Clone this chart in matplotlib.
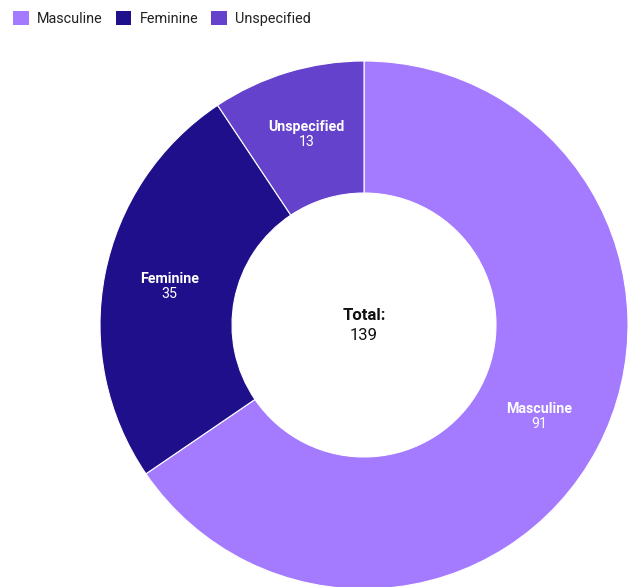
import matplotlib
matplotlib.use("Agg")
import matplotlib.pyplot as plt
from matplotlib.patches import Patch
import numpy as np

plt.rcParams['font.family'] = ['Roboto', 'DejaVu Sans']

categories = ["Masculine", "Feminine", "Unspecified"]
values = [91, 35, 13]
colors = ["#A47AFF", "#1F0F8A", "#6442CB"]

W, H = 628, 587
fig = plt.figure(figsize=(W / 100, H / 100), dpi=100)
ax = fig.add_axes([0, 0, 1, 1])

cx, cy, R = 364, H - 325, 264
wedges, _ = ax.pie(values, colors=colors, startangle=90, counterclock=False,
                   center=(cx, cy), radius=R, frame=True,
                   wedgeprops=dict(width=R * 0.5, edgecolor="white", linewidth=0.8))
ax.set_xlim(0, W)
ax.set_ylim(0, H)
ax.set_aspect("equal")
ax.axis("off")

total = sum(values)
start = 90.0
for cat, v in zip(categories, values):
    span = v / total * 360
    mid = np.deg2rad(start - span / 2)
    start -= span
    r = R * 0.75
    x = cx + r * np.cos(mid)
    y = cy + r * np.sin(mid)
    ax.text(x, y + 8, cat, ha="center", va="center", color="white",
            fontsize=10.2, fontweight="bold")
    ax.text(x, y - 7, str(v), ha="center", va="center", color="white",
            fontsize=10.2)

ax.text(cx, cy + 10, "Total:", ha="center", va="center", fontsize=12,
        fontweight="bold", color="#111111")
ax.text(cx, cy - 10, str(total), ha="center", va="center", fontsize=12,
        color="#111111")

handles = [Patch(facecolor=c, edgecolor="none") for c in colors]
fig.legend(handles, categories, loc="upper left", bbox_to_anchor=(0.0, 1.003),
           ncol=3, frameon=False, handlelength=1.1, handleheight=1.1,
           handletextpad=0.55, columnspacing=0.9, fontsize=10.4,
           labelcolor="#222222")

fig.savefig("out.png", dpi=100)
